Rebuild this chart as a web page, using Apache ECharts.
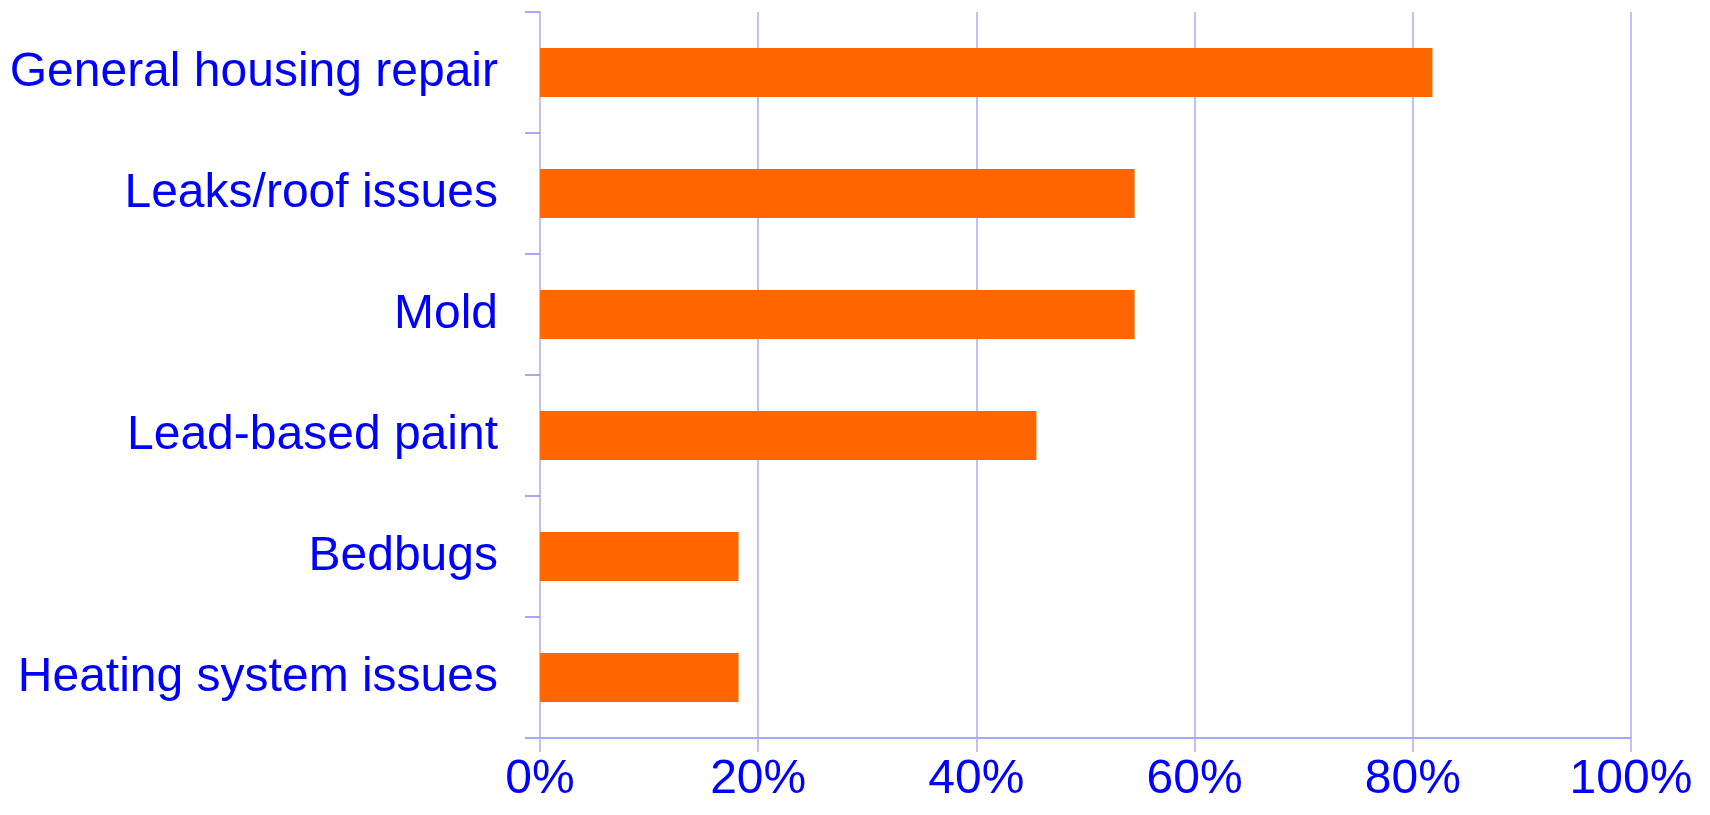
<!DOCTYPE html>
<html>
<head>
<meta charset="utf-8">
<script src="https://cdn.jsdelivr.net/npm/echarts@6/dist/echarts.min.js"></script>
<style>
html,body{margin:0;padding:0;background:#fff;}
#chart{width:1710px;height:815px;}
</style>
</head>
<body>
<div id="chart"></div>
<script>
const categories = ["General housing repair", "Leaks/roof issues", "Mold", "Lead-based paint", "Bedbugs", "Heating system issues"];
const values = [81.8, 54.5, 54.5, 45.5, 18.2, 18.2];
const xTicks = [0, 20, 40, 60, 80, 100];

const chart = echarts.init(document.getElementById('chart'));
chart.setOption({
  animation: false,
  backgroundColor: '#ffffff',
  grid: { left: 540, right: 79, top: 12, bottom: 77, containLabel: false },
  xAxis: {
    type: 'value',
    min: xTicks[0],
    max: xTicks[xTicks.length - 1],
    interval: 20,
    axisLine: { show: true, lineStyle: { color: '#8c8cff', width: 1.5 } },
    axisTick: { show: true, length: 14, lineStyle: { color: '#c0c0ff', width: 2 } },
    splitLine: { show: true, lineStyle: { color: '#c0c0ff', width: 2 } },
    axisLabel: {
      color: '#0000ff', fontSize: 48, fontFamily: 'Liberation Sans, Arial, sans-serif',
      margin: 18,
      formatter: v => v + '%'
    }
  },
  yAxis: {
    type: 'category',
    data: categories,
    inverse: true,
    axisLine: { show: true, lineStyle: { color: '#c0c0ff', width: 2 } },
    axisTick: { show: true, length: 15, lineStyle: { color: '#8c8cff', width: 1.5 } },
    axisLabel: {
      color: '#0000ff', fontSize: 48, fontFamily: 'Liberation Sans, Arial, sans-serif',
      margin: 42
    }
  },
  series: [{
    type: 'bar',
    data: values,
    barWidth: 49,
    itemStyle: { color: '#ff6600' }
  }]
});
</script>
</body>
</html>
